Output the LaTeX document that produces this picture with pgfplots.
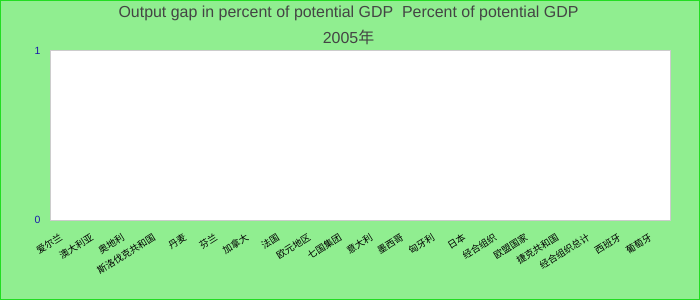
\documentclass[border=0pt]{standalone}
\usepackage{pgfplots}
\pgfplotsset{compat=1.18}
\usepackage{fontspec}
\setmainfont{Liberation Sans}
\newfontfamily\cjk{Noto Sans CJK SC}
\definecolor{bgGreen}{HTML}{90EE90}
\definecolor{edgeGreen}{HTML}{22DD22}
\definecolor{titleGray}{HTML}{444444}
\definecolor{tickBlue}{HTML}{1A1AAA}
\definecolor{frameGray}{HTML}{CCCCCC}
\begin{document}
\begin{tikzpicture}[x=1bp,y=1bp]
\useasboundingbox (0,0) rectangle (700,300);
\fill[bgGreen] (0,0) rectangle (700,300);
\draw[edgeGreen, line width=1.2bp] (0.6,0.6) rectangle (699.4,299.4);
\node[font=\fontsize{16}{18}\selectfont, text=titleGray] at (348.5,286.5) {Output gap in percent of potential GDP\ \ Percent of potential GDP};
\node[font=\fontsize{16}{18}\selectfont, text=titleGray] at (348.5,262.5) {2005{\cjk 年}};
\begin{axis}[
  at={(50bp,80bp)}, anchor=south west,
  scale only axis, width=620.5bp, height=169bp,
  xmin=-0.5, xmax=19.5, ymin=0, ymax=1,
  axis background/.style={fill=white},
  axis line style={frameGray, line width=1bp},
  xtick={0,...,19},
  xticklabels={爱尔兰,澳大利亚,奥地利,斯洛伐克共和国,丹麦,芬兰,加拿大,法国,欧元地区,七国集团,意大利,墨西哥,匈牙利,日本,经合组织,欧盟国家,捷克共和国,经合组织总计,西班牙,葡萄牙},
  ytick={0,1},
  major tick length=0pt,
  xticklabel style={rotate=32, anchor=north east, font=\cjk\fontsize{9.5}{10}\selectfont, text=black, xshift=-9bp, yshift=-4bp},
  yticklabel style={font=\fontsize{10.5}{12}\selectfont, text=tickBlue, xshift=-6bp},
  /pgf/number format/assume math mode=true,
  grid=none,
]
\end{axis}
\end{tikzpicture}
\end{document}
